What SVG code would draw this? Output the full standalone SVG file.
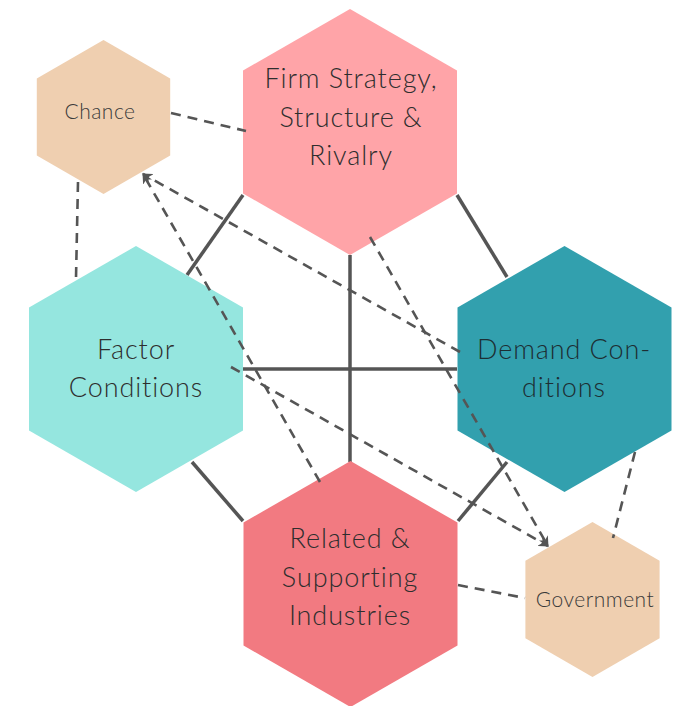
<svg xmlns="http://www.w3.org/2000/svg" width="693" height="706" viewBox="0 0 693 706">
<defs>
<style>
.solid{stroke:#555;stroke-width:3.5;fill:none}
.dash{stroke:#555;stroke-width:2.6;fill:none;stroke-dasharray:10 7}
.big{font-family:Lato,"Liberation Sans",sans-serif;font-weight:300;font-size:27px;letter-spacing:0.9px;fill:#2e2e2e;text-anchor:middle}
.small{font-family:Lato,"Liberation Sans",sans-serif;font-weight:300;font-size:21px;letter-spacing:0.5px;fill:#3a3a3a;text-anchor:middle}
</style>
<marker id="arr" viewBox="0 0 10 10" refX="9" refY="5" markerWidth="4" markerHeight="4" orient="auto" markerUnits="strokeWidth">
<path d="M0,0 L10,5 L0,10 L3,5 z" fill="#555"/>
</marker>
</defs>
<rect width="693" height="706" fill="#fff"/>
<g id="connectors-solid">
<line class="solid" x1="243" y1="195" x2="187" y2="275"/>
<line class="solid" x1="457" y1="195" x2="507" y2="277"/>
<line class="solid" x1="192" y1="462" x2="243" y2="521"/>
<line class="solid" x1="507" y1="462" x2="458" y2="521"/>
<line class="solid" x1="350" y1="255" x2="350" y2="462"/>
<line class="solid" x1="243" y1="369" x2="457" y2="369"/>
</g>
<g id="firm"><polygon points="350,9 457,70.5 457,193.5 350,255 243,193.5 243,70.5" fill="#FFA4A8"/>
<text class="big" x="351" y="88">Firm Strategy,</text><text class="big" x="351" y="127">Structure &amp;</text><text class="big" x="351" y="165">Rivalry</text></g>
<g id="factor"><polygon points="136,246 243,307.5 243,430.5 136,492 29,430.5 29,307.5" fill="#95E6DF"/>
<text class="big" x="136" y="359">Factor</text><text class="big" x="136" y="397">Conditions</text></g>
<g id="demand"><polygon points="564.5,246 671.5,307.5 671.5,430.5 564.5,492 457.5,430.5 457.5,307.5" fill="#32A0AE"/>
<text class="big" x="564" y="359" style="fill:#1d2e33">Demand Con-</text><text class="big" x="564" y="397" style="fill:#1d2e33">ditions</text></g>
<g id="related"><polygon points="350.5,461 457.5,522.5 457.5,645.5 350.5,707 243.5,645.5 243.5,522.5" fill="#F27A81"/>
<text class="big" x="350" y="548">Related &amp;</text><text class="big" x="350" y="587">Supporting</text><text class="big" x="350" y="625">Industries</text></g>
<g id="chance"><polygon points="103.5,40 170.2,78.5 170.2,155.5 103.5,194 36.8,155.5 36.8,78.5" fill="#EFCFB0"/>
<text class="small" x="100" y="119">Chance</text></g>
<g id="government"><polygon points="592.5,522 659.6,560.75 659.6,638.25 592.5,677 525.4,638.25 525.4,560.75" fill="#EFCFB0"/>
<text class="small" x="595" y="607">Government</text></g>
<g id="connectors-dashed">
<line class="dash" x1="171" y1="113" x2="246" y2="131"/>
<line class="dash" x1="78" y1="182" x2="76" y2="278"/>
<line class="dash" x1="460" y1="352" x2="143" y2="174" marker-end="url(#arr)"/>
<line class="dash" x1="320" y1="482" x2="143" y2="174" marker-end="url(#arr)"/>
<line class="dash" x1="370" y1="237" x2="548" y2="546" marker-end="url(#arr)"/>
<line class="dash" x1="231" y1="367" x2="548" y2="546" marker-end="url(#arr)"/>
<line class="dash" x1="458" y1="585" x2="525" y2="598"/>
<line class="dash" x1="635" y1="452" x2="613" y2="538"/>
</g>
</svg>
